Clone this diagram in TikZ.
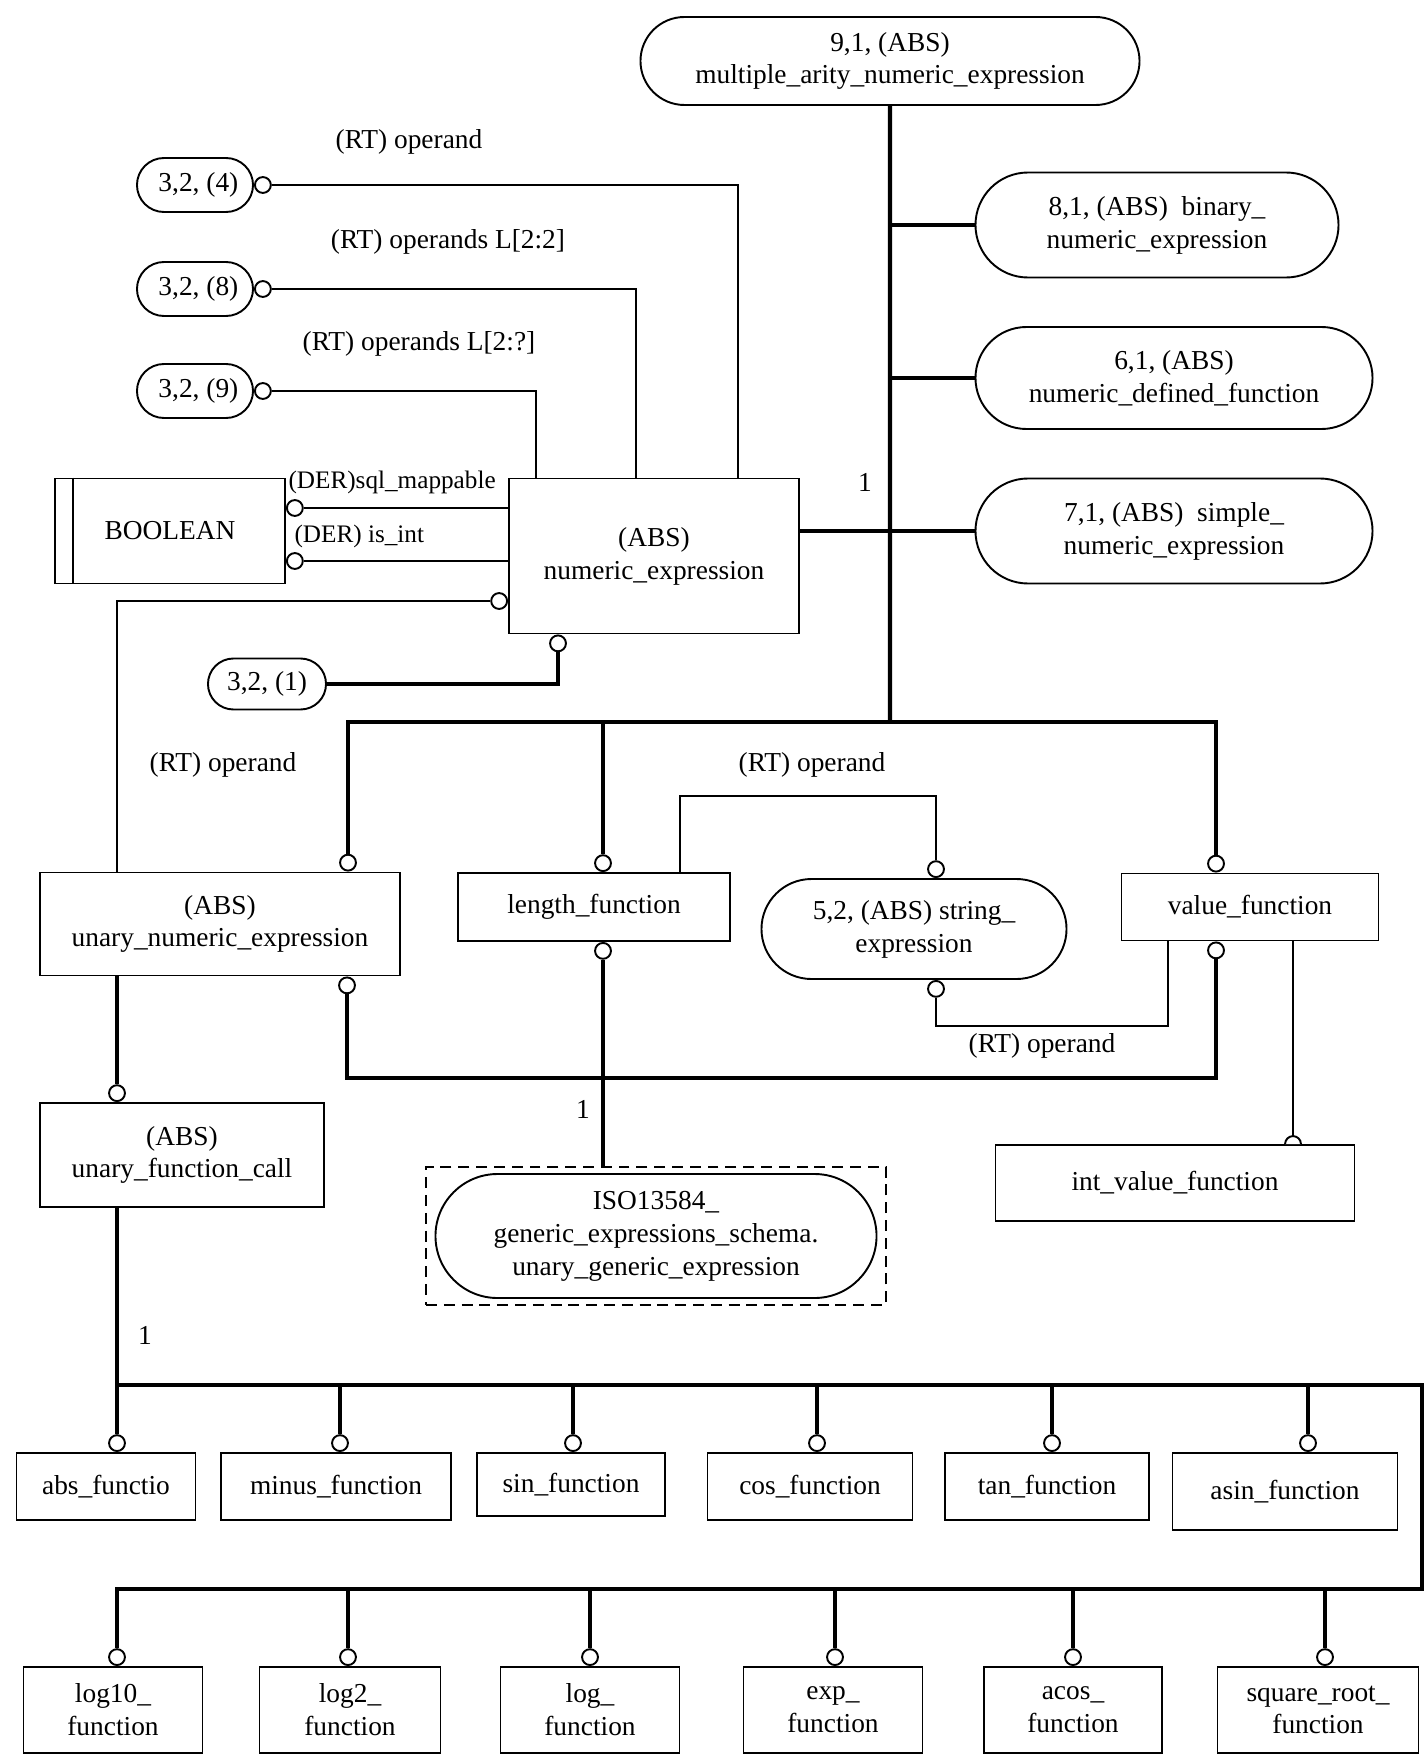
\documentclass[tikz,border=0pt]{standalone}
\usepackage{fontspec}
\setmainfont{Liberation Serif}
\usetikzlibrary{shapes.misc}
\newcommand{\upx}{0.01284cm}

\begin{document}
\begin{tikzpicture}[x=\upx, y=-\upx,
    every node/.style={font=\fontsize{10}{12}\selectfont},
    box/.style={draw, line width=0.7pt, align=center, inner sep=2pt},
    pill/.style={box, rounded rectangle},
    ring/.style={circle, draw, line width=0.7pt, fill=white, inner sep=0pt, minimum size=5.8pt},
    link/.style={line width=0.8pt},
    bold/.style={line width=1.6pt},
    wh/.style 2 args={minimum width=#1*\upx, minimum height=#2*\upx}]
  \useasboundingbox (0,0) rectangle (1426,1756);

  % Supertype and its subtypes
  \node[pill, wh={510}{88}] (top) at (890,61) {9,1, (ABS)\\multiple\_arity\_numeric\_expression};
  \node[pill, wh={374}{105}] (bin) at (1157,225) {8,1, (ABS)\ \ binary\_\\numeric\_expression};
  \node[pill, wh={408}{102}] (ndf) at (1174,378) {6,1, (ABS)\\numeric\_defined\_function};
  \node[pill, wh={408}{105}] (sne) at (1174,531) {7,1, (ABS)\ \ simple\_\\numeric\_expression};
  \node[box, wh={290}{155}] (nexp) at (654,556) {(ABS)\\numeric\_expression};
  \coordinate (hub) at (890,722);
  \draw[bold] (top) -- (hub);
  \foreach \n in {bin,ndf,sne}
    \draw[bold] (\n.west) -- (\n.west -| hub);
  \draw[bold] (sne.west -| nexp.east) -- (sne.west -| hub);
  \node at (865,482) {1};

  % Referenced entities above numeric_expression
  \node[pill, wh={127}{54}] (s4) at (195,185) {\ 3,2, (4)};
  \node[pill, wh={127}{54}] (s8) at (195,289) {\ 3,2, (8)};
  \node[pill, wh={127}{54}] (s9) at (195,391) {\ 3,2, (9)};
  \node[ring, anchor=west] (o4) at (s4.east) {};
  \node[ring, anchor=west] (o8) at (s8.east) {};
  \node[ring, anchor=west] (o9) at (s9.east) {};
  \coordinate (n4) at (738,479);
  \coordinate (n8) at (636,479);
  \coordinate (n9) at (536,479);
  \draw[link] (o4) -| (n4);
  \draw[link] (o8) -| (n8);
  \draw[link] (o9) -| (n9);
  \node at (409,142) {(RT) operand};
  \node at (448,242) {(RT) operands L[2:2]};
  \node at (419,344) {(RT) operands L[2:?]};

  % BOOLEAN
  \node[box, wh={230}{105}] (bool) at (170,531) {BOOLEAN};
  \draw[line width=0.7pt] ([xshift=19*\upx]bool.north west) -- ([xshift=19*\upx]bool.south west);
  \node[ring, anchor=west] (od1) at (bool.east |- 0,508) {};
  \node[ring, anchor=west] (od2) at (bool.east |- 0,561) {};
  \draw[link] (od1) -- (od1 -| nexp.west);
  \draw[link] (od2) -- (od2 -| nexp.west);
  \node[anchor=west, inner sep=0pt, font=\fontsize{9.2}{11}\selectfont] at (288,482) {(DER)sql\_mappable};
  \node[anchor=west, inner sep=0pt, font=\fontsize{9.2}{11}\selectfont] at (294,536) {(DER) is\_int};

  % unary_numeric_expression
  \node[box, wh={360}{103}] (une) at (220,924) {(ABS)\\unary\_numeric\_expression};
  \node[ring, anchor=east] (ou) at (nexp.west |- 0,601) {};
  \coordinate (u1) at (117,873);
  \draw[link] (ou) -| (u1);
  \node at (223,765) {(RT) operand};

  % 3,2,(1)
  \node[pill, wh={129}{51}] (s1) at (267,684) {3,2, (1)};
  \node[ring, anchor=north] (o1) at (nexp.south -| 558,0) {};
  \draw[bold] (s1.east) -| (o1);

  % Middle row
  \node[box, wh={272}{68}] (lenf) at (594,907) {length\_function};
  \node[pill, wh={316}{100}] (strx) at (914,929) {5,2, (ABS) string\_\\expression};
  \node[box, wh={257}{67}] (valf) at (1250,907) {value\_function};
  \node[box, wh={359}{76}] (ivf) at (1175,1183) {int\_value\_function};
  \node[ring, anchor=south] (a1) at (une.north -| 348,0) {};
  \node[ring, anchor=south] (a2) at (lenf.north -| 603,0) {};
  \node[ring, anchor=south] (a3) at (valf.north -| 1216,0) {};
  \draw[bold] (a1) |- (hub) -| (a3);
  \draw[bold] (a2) -- (a2 |- hub);

  % string_expression operands
  \coordinate (k1) at (680,796);
  \node[ring, anchor=south] (b1) at (strx.north -| 936,0) {};
  \draw[link] (lenf.north -| k1) -- (k1) -| (b1);
  \node at (812,765) {(RT) operand};
  \node[ring, anchor=north] (b2) at (strx.south -| 936,0) {};
  \coordinate (k2) at (1168,1026);
  \draw[link] (b2) |- (k2) -- (k2 |- valf.south);
  \node at (1042,1046) {(RT) operand};

  % Lower connector and generic expression
  \node[ring, anchor=north] (c1) at (une.south -| 347,0) {};
  \node[ring, anchor=north] (c2) at (lenf.south -| 603,0) {};
  \node[ring, anchor=north] (c3) at (valf.south -| 1216,0) {};
  \coordinate (k3) at (780,1078);
  \draw[bold] (c1) |- (k3) -| (c3);
  \node[draw, line width=0.7pt, dash pattern=on 4pt off 2.5pt, wh={460}{138}] (isof) at (656,1236) {};
  \node[pill, wh={452}{124}] (iso) at (656,1236) {ISO13584\_\\generic\_expressions\_schema.\\unary\_generic\_expression};
  \draw[bold] (c2) -- (c2 |- isof.north);
  \node at (583,1109) {1};

  % int_value_function
  \coordinate (v1) at (1293,940);
  \coordinate (v2) at (v1 |- ivf.north);
  \draw[link] (valf.south -| v1) -- (v2);
  \draw[line width=0.7pt, fill=white] ([xshift=-2.9pt]v2) arc[start angle=180, end angle=0, radius=2.9pt];

  % unary_function_call
  \node[box, wh={284}{104}] (ufc) at (182,1155) {(ABS)\\unary\_function\_call};
  \node[ring, anchor=south] (c4) at (ufc.north -| 117,0) {};
  \draw[bold] (une.south -| c4) -- (c4);

  % Function subtypes
  \coordinate (busA) at (117,1385);
  \coordinate (busB) at (1422,1589);
  \draw[bold] (ufc.south -| busA) -- (busA);
  \foreach \n/\cx/\w/\h/\rx/\t in {abs/106/179/67/117/abs\_functio,
      minus/336/230/67/340/minus\_function, sin/571/188/63/573/sin\_function,
      cos/810/205/67/817/cos\_function, tan/1047/204/67/1052/tan\_function,
      asin/1285/225/77/1308/asin\_function} {
    \node[box, wh={\w}{\h}, anchor=north] (f\n) at (\cx,1452) {\t};
    \node[ring, anchor=south] (r\n) at (f\n.north -| \rx,0) {};
    \draw[bold] (r\n) -- (r\n |- busA);
  }
  \foreach \n/\cx/\w/\rx/\t in {log10/113/179/117/log10\_\\function,
      log2/350/181/348/log2\_\\function, log/590/179/590/log\_\\function,
      exp/833/179/835/exp\_\\function, acos/1073/178/1073/acos\_\\function,
      sqrt/1318/201/1325/square\_root\_\\function} {
    \node[box, wh={\w}{86}, anchor=north] (f\n) at (\cx,1666) {\t};
    \node[ring, anchor=south] (r\n) at (f\n.north -| \rx,0) {};
    \draw[bold] (r\n) -- (r\n |- busB);
  }
  \draw[bold] (busA) -| (busB) -| (rlog10);
  \node at (145,1335) {1};
\end{tikzpicture}
\end{document}
